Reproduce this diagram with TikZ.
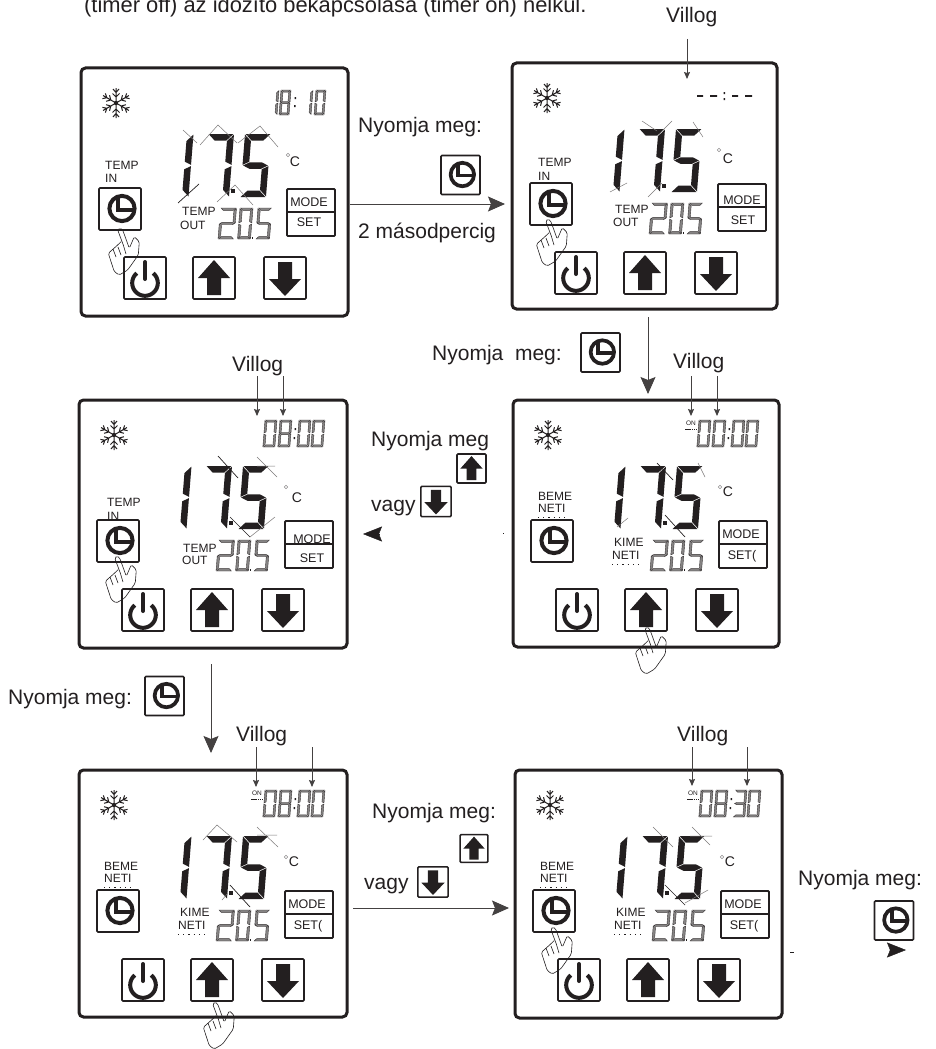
\documentclass[tikz,border=0pt]{standalone}
\usepackage{fontspec}
\setmainfont{Liberation Sans}
\usetikzlibrary{arrows.meta}
\definecolor{ink}{HTML}{231F20}
\tikzset{
  x=1pt,y=-1pt,
  panelbox/.style={draw=ink,line width=3pt,rounded corners=4.5pt,fill=white,inner sep=0pt,outer sep=0pt},
  btn/.style={draw=ink,line width=1.6pt,rounded corners=1pt,fill=white,inner sep=0pt,outer sep=0pt},
  big/.style={inner sep=0pt,anchor=west,text=ink,font=\fontsize{21}{21}\selectfont,text height=15pt,text depth=4pt},
  small/.style={inner sep=0pt,anchor=west,text=ink,font=\fontsize{12}{12}\selectfont,text height=9pt,text depth=0pt},
  mid/.style={inner sep=0pt,text=ink,font=\fontsize{12.5}{12.5}\selectfont,text height=9pt,text depth=0pt},
  conn/.style={draw=ink!85,line width=0.9pt,-{Stealth[length=17pt,width=15pt,inset=3pt]}},
  thinconn/.style={draw=ink!85,line width=0.9pt,-{Stealth[length=7pt,width=6pt,inset=1pt]}},
  headonly/.style={draw=ink,line width=0.5pt,-{Stealth[length=19pt,width=15pt,inset=3pt]}},
  bigseg/.style={fill=ink,draw=none},
  smallseg/.style={fill=ink!55,draw=ink!90,line width=0.4pt},
  spike/.style={draw=ink!60,line width=0.5pt},
  spikedark/.style={draw=ink,line width=0.7pt},
  handline/.style={draw=ink,line width=0.6pt,rounded corners=1.5pt,line join=round},
}
\def\g{0.6}
\def\SA{\path[\segst] (\g,0)--({\dw-\g},0)--({\dw-\g-\dt},\dt)--({\g+\dt},\dt)--cycle;}
\def\SD{\path[\segst] (\g,\dh)--({\dw-\g},\dh)--({\dw-\g-\dt},{\dh-\dt})--({\g+\dt},{\dh-\dt})--cycle;}
\def\SG{\path[\segst] (\g,{\dh/2})--({\g+\dt},{\dh/2-\dt/2})--({\dw-\g-\dt},{\dh/2-\dt/2})--({\dw-\g},{\dh/2})--({\dw-\g-\dt},{\dh/2+\dt/2})--({\g+\dt},{\dh/2+\dt/2})--cycle;}
\def\SF{\path[\segst] (0,\g)--(\dt,{\g+\dt})--(\dt,{\dh/2-\dt/2-\g})--(0,{\dh/2-\g})--cycle;}
\def\SB{\path[\segst] (\dw,\g)--({\dw-\dt},{\g+\dt})--({\dw-\dt},{\dh/2-\dt/2-\g})--(\dw,{\dh/2-\g})--cycle;}
\def\SE{\path[\segst] (0,{\dh/2+\g})--(\dt,{\dh/2+\dt/2+\g})--(\dt,{\dh-\g-\dt})--(0,{\dh-\g})--cycle;}
\def\SC{\path[\segst] (\dw,{\dh/2+\g})--({\dw-\dt},{\dh/2+\dt/2+\g})--({\dw-\dt},{\dh-\g-\dt})--(\dw,{\dh-\g})--cycle;}
\def\Dzero{\SA\SB\SC\SD\SE\SF}
\def\Done{\SB\SC}
\def\Dtwo{\SA\SB\SG\SE\SD}
\def\Dthree{\SA\SB\SG\SC\SD}
\def\Dfive{\SA\SF\SG\SC\SD}
\def\Dseven{\SA\SB\SC}
\def\Deight{\SA\SB\SC\SD\SE\SF\SG}
\newcommand\dig[3]{\begin{scope}[shift={(#1,#2)},xslant=0.08] #3 \end{scope}}
\newcommand\btnicon[5]{%
  \pgfmathsetmacro\bsz{42*#4}%
  \pgfmathsetmacro\blw{4*#4}%
  \node[btn,minimum size=\bsz pt] (#1) at (#2,#3) {};
  \begin{scope}[shift={(#2,#3)},scale=#4] #5 \end{scope}}
\def\Iclock{\draw[ink,line width=\blw pt] (2,-0.5) circle[radius=12.6];
  \draw[ink,line width=\blw pt] (-2.5,-12)--(-2.5,0.5)--(13,0.5);}
\def\Iup{\fill[ink] (0,-18)--(16,0)--(7,0)--(7,17)--(-7,17)--(-7,0)--(-16,0)--cycle;}
\def\Idown{\fill[ink] (0,18)--(16,1)--(7,1)--(7,-16)--(-7,-16)--(-7,1)--(-16,1)--cycle;}
\def\Ipower{\draw[ink,line width=\blw pt] plot[domain=-50:230,samples=40] ({12.8*cos(\x)},{5+12.8*sin(\x)});
  \draw[ink,line width=\blw pt,line cap=round] (0,-16)--(0,1);}
\newcommand\hand[2]{\begin{scope}[shift={(#1,#2)}]
  \draw[handline] (1,12.7)--(-2.3,16)--(-11.7,24.3)--(-5.7,42.7)--(-0.7,46)--(7.7,41)--(18.3,26)--(19.3,12.7)--(14.3,7.7)--(9.3,19.3)--(2.7,1)--(0,-1)--(-2.3,1)--(3.3,16);
  \draw[handline] (-7,20)--(-4,28) (-2,18)--(1,26) (3.3,16)--(6,25);
  \end{scope}}
\newcommand\common[3]{%
  \begin{scope}[shift={(35,35)}]
    \foreach \a in {0,60,...,300}{
      \begin{scope}[rotate=\a]
        \draw[ink,line width=1pt] (0,0)--(0,15) (-3.5,9.5)--(0,6)--(3.5,9.5) (-3,14)--(0,10.5)--(3,14);
      \end{scope}}
    \fill[ink] (0,0) circle[radius=2.2];
  \end{scope}
  \def\segst{bigseg}\def\dh{63}\def\dt{6.5}
  \def\dw{7.5}\dig{105}{66}{\Done}
  \def\dw{26}\dig{127}{66}{\Dseven}
  \def\dw{26}\dig{164}{66}{\Dfive}
  \fill[ink] (149.5,121) rectangle (153.5,125);
  \def\segst{smallseg}\def\dh{31}\def\dt{2.4}
  \def\dw{16}\dig{139.5}{140}{\Dtwo}
  \def\dw{13}\dig{159}{140}{\Dzero}
  \fill[ink] (170.5,169) rectangle (172.3,171);
  \def\dw{14}\dig{177}{140}{\Dfive}
  \btnicon{#1-clock}{39}{141}{1}{\Iclock}
  \btnicon{#1-power}{64}{210}{1}{\Ipower}
  \btnicon{#1-up}{133}{210}{1}{\Iup}
  \btnicon{#1-down}{204}{210}{1}{\Idown}
  \node[btn,minimum width=48pt,minimum height=47pt,line width=1.8pt] (#1-modebox) at (230,144.5) {};
  \node[mid] (#1-mode) at (#2) {MODE};
  \fill[white] (207,145) rectangle (253,167);
  \draw[ink,line width=1.6pt] (206,144)--(254,144);
  \coordinate (#1-setpos) at (#3);
}
\newcommand\degc[3]{%
  \draw[ink!50,line width=0.5pt] (207,87) circle[radius=1.8];
  \node[inner sep=0pt,text=ink,font=\fontsize{14}{14}\selectfont] (#1-c) at (#2,#3) {C};}
\newcommand\timedigits[4]{%
  \def\segst{smallseg}\def\dh{27}\def\dt{2.1}\def\dw{12}
  \dig{186}{20}{#1}\dig{201}{20}{#2}\dig{220}{20}{#3}\dig{234}{20}{#4}
  \fill[ink] (215.5,28) rectangle (217,30) (214.5,37) rectangle (216,39);}
\newcommand\onmark[1]{%
  \node[inner sep=0pt,text=ink,font=\fontsize{6.5}{6.5}\selectfont] (#1-on) at (178,23) {ON};
  \draw[ink,line width=0.4pt,dash pattern=on 1.5pt off 0.7pt] (172,29)--(184,29);}
\newcommand\dottedline[2]{\draw[ink,line width=0.9pt,dash pattern=on 1.2pt off 4pt] (#1,#2)--++(29,0);}
\begin{document}
\begin{tikzpicture}
\useasboundingbox (0,0) rectangle (935,1049);
\fill[white] (0,0) rectangle (935,1049);

\node[inner sep=0pt,anchor=base west,text=ink,font=\fontsize{21.9}{21.9}\selectfont] (intro) at (84,12.7) {(timer off) az időzítő bekapcsolása (timer on) nélkül.};

\node[panelbox,minimum width=267pt,minimum height=248pt] (p1) at (214.5,192) {};
\node[panelbox,minimum width=265pt,minimum height=246pt] (p2) at (644.5,186) {};
\node[panelbox,minimum width=268pt,minimum height=248pt] (p3) at (213,524) {};
\node[panelbox,minimum width=266pt,minimum height=247pt] (p4) at (646,523.5) {};
\node[panelbox,minimum width=268pt,minimum height=247pt] (p5) at (213,893.5) {};
\node[panelbox,minimum width=267pt,minimum height=248pt] (p6) at (648.5,894) {};

% ===== Panel 1
\begin{scope}[shift={(81,68)}]
  \common{p1}{228,134}{228,154}
  \node[mid] (p1-settext) at (p1-setpos) {SET};
  \degc{p1}{214}{94}
  \def\segst{smallseg}\def\dh{25}\def\dt{2.1}
  \def\dw{4}\dig{194}{22}{\Done}
  \def\dw{10}\dig{200}{22}{\Deight}
  \fill[ink] (213.5,29) rectangle (215,31) (213,37) rectangle (214.5,39);
  \def\dw{4}\dig{228}{22}{\Done}
  \def\dw{10}\dig{235}{22}{\Dzero}
  \node[small] (p1-ti) at (24,97) {TEMP};
  \node[small] (p1-in) at (24,110) {IN};
  \node[small] (p1-to) at (101,143) {TEMP};
  \node[small] (p1-ou) at (99,157) {OUT};
  \draw[spike] (102,62)--(116,75) (119,77)--(137,57)--(156,75) (157,75)--(179,58)--(197,79) (136,134)--(154,117)--(172,137);
  \draw[spikedark] (97,135)--(118,116);
  \hand{39}{161}
\end{scope}

% ===== Panel 2
\begin{scope}[shift={(512,63)}]
  \common{p2}{230,137}{231,157}
  \node[mid] (p2-settext) at (p2-setpos) {SET};
  \degc{p2}{216}{96}
  \fill[ink] (185,32.2) rectangle (191,33.8) (198,32.2) rectangle (205,33.8) (220,32.2) rectangle (226,33.8) (233,32.2) rectangle (240,33.8);
  \fill[ink] (211.5,29) rectangle (213,31) (211.5,35) rectangle (213,37);
  \node[small] (p2-ti) at (26,99) {TEMP};
  \node[small] (p2-in) at (26,113) {IN};
  \node[small] (p2-to) at (103,146) {TEMP};
  \node[small] (p2-ou) at (101,159) {OUT};
  \draw[spike] (181,59)--(191,74) (98,129)--(115,120) (136,134)--(150,120) (130,58)--(145,68) (150,68)--(160,58);
  \hand{36}{157}
\end{scope}

% ===== Panel 3
\begin{scope}[shift={(79,400)}]
  \node[small] (p3-in) at (28,116) {IN};
  \common{p3}{233,139}{233,158}
  \node[mid] (p3-settext) at (p3-setpos) {SET};
  \degc{p3}{218}{98}
  \timedigits{\Dzero}{\Deight}{\Dzero}{\Dzero}
  \node[small] (p3-ti) at (28,102) {TEMP};
  \node[small] (p3-to) at (104,148) {TEMP};
  \node[small] (p3-ou) at (103,160) {OUT};
  \draw[spike] (178,57)--(198,77) (178,66)--(196,66) (171,137)--(196,117);
  \draw[spikedark] (139,56)--(159,78) (151,117)--(171,137);
  \hand{38}{157}
\end{scope}

% ===== Panel 4
\begin{scope}[shift={(513,400)}]
  \common{p4}{228,134}{229,155}
  \node[mid] (p4-settext) at (p4-setpos) {SET(};
  \degc{p4}{215}{92}
  \timedigits{\Dzero}{\Dzero}{\Dzero}{\Dzero}
  \onmark{p4}
  \node[small] (p4-be) at (25,96) {BEME};
  \node[small] (p4-ne) at (25,108) {NETI};
  \dottedline{25}{117}
  \node[small] (p4-ki) at (101,142) {KIME};
  \node[small] (p4-nt) at (99,155) {NETI};
  \dottedline{99}{164}
  \draw[spike] (185,63)--(192,77) (104,127)--(115,118);
  \draw[spikedark] (144,63)--(160,80) (152,115)--(172,137);
  \hand{134}{228}
\end{scope}

% ===== Panel 5
\begin{scope}[shift={(79,770)}]
  \common{p5}{228,134}{229,155}
  \node[mid] (p5-settext) at (p5-setpos) {SET(};
  \degc{p5}{215}{92}
  \timedigits{\Dzero}{\Deight}{\Dzero}{\Dzero}
  \onmark{p5}
  \node[small] (p5-be) at (25,96) {BEME};
  \node[small] (p5-ne) at (25,108) {NETI};
  \dottedline{25}{117}
  \node[small] (p5-ki) at (101,142) {KIME};
  \node[small] (p5-nt) at (99,155) {NETI};
  \dottedline{99}{164}
  \draw[spike] (124,70)--(138,55)--(158,72) (178,57)--(199,77) (178,65)--(198,65) (143,130)--(149,123);
  \draw[spikedark] (151,115)--(171,137);
  \hand{136}{233}
\end{scope}

% ===== Panel 6
\begin{scope}[shift={(515,770)}]
  \common{p6}{228,134}{229,155}
  \node[mid] (p6-settext) at (p6-setpos) {SET(};
  \degc{p6}{215}{92}
  \timedigits{\Dzero}{\Deight}{\Dthree}{\Dzero}
  \onmark{p6}
  \node[small] (p6-be) at (25,96) {BEME};
  \node[small] (p6-ne) at (25,108) {NETI};
  \dottedline{25}{117}
  \node[small] (p6-ki) at (101,142) {KIME};
  \node[small] (p6-nt) at (99,155) {NETI};
  \dottedline{99}{164}
  \draw[spike] (138,57)--(158,77) (177,57)--(195,75) (175,66)--(197,66) (170,133)--(193,120);
  \draw[spikedark] (150,115)--(170,135);
  \hand{38}{158}
\end{scope}

% ===== Labels between panels
\node[big] (n1) at (358,127) {Nyomja meg:};
\btnicon{i1}{460.5}{175}{0.93}{\Iclock}
\node[big] (n1b) at (358,233) {2 másodpercig};
\node[big] (v2) at (666,17) {Villog};

\node[big] (n2) at (432,355) {Nyomja\ \ meg:};
\btnicon{i2}{600.5}{352.5}{0.93}{\Iclock}
\node[big] (v4) at (673,363) {Villog};

\node[big] (v3) at (232,366) {Villog};
\node[big] (n3) at (371,441) {Nyomja meg};
\btnicon{i3u}{471.5}{468.5}{0.69}{\Iup}
\node[big] (n3v) at (371,506) {vagy};
\btnicon{i3d}{436}{501.5}{0.72}{\Idown}

\node[big] (n4) at (8,699) {Nyomja meg:};
\btnicon{i4}{164.5}{696}{0.93}{\Iclock}
\node[big] (v5) at (236,736) {Villog};

\node[big] (n5) at (372,813) {Nyomja meg:};
\btnicon{i5u}{474}{848.5}{0.66}{\Iup}
\node[big] (n5v) at (364,884) {vagy};
\btnicon{i5d}{433}{882}{0.72}{\Idown}

\node[big] (v6) at (677,736) {Villog};
\node[big] (n6) at (798,880) {Nyomja meg:};
\btnicon{i6}{894}{920.5}{0.93}{\Iclock}

% ===== Connectors
\coordinate (a1s) at (350,204); \coordinate (a1e) at (505,204);
\draw[conn] (a1s)--(a1e);
\coordinate (a2s) at (648,317); \coordinate (a2e) at (648,394);
\draw[conn] (a2s)--(a2e);
\coordinate (a3s) at (211,664); \coordinate (a3e) at (211,753);
\draw[conn] (a3s)--(a3e);
\coordinate (a4s) at (353,908); \coordinate (a4e) at (509,908);
\draw[conn] (a4s)--(a4e);
\coordinate (h1s) at (379,534); \coordinate (h1e) at (363,534);
\draw[headonly] (h1s)--(h1e);
\coordinate (h2s) at (890,950); \coordinate (h2e) at (906,950);
\draw[headonly] (h2s)--(h2e);
\fill[ink] (502.5,532.5) rectangle (503.5,533.5);
\fill[ink] (790,951.5) rectangle (794,952.5);

\coordinate (b1s) at (687,39); \coordinate (b1e) at (687,79);
\draw[thinconn] (b1s)--(b1e);
\coordinate (b2s) at (257,376); \coordinate (b2e) at (257,416);
\draw[thinconn] (b2s)--(b2e);
\coordinate (b3s) at (283,376); \coordinate (b3e) at (283,416);
\draw[thinconn] (b3s)--(b3e);
\coordinate (b4s) at (691,376); \coordinate (b4e) at (691,416);
\draw[thinconn] (b4s)--(b4e);
\coordinate (b5s) at (717,376); \coordinate (b5e) at (717,416);
\draw[thinconn] (b5s)--(b5e);
\coordinate (b6s) at (256,747); \coordinate (b6e) at (256,787);
\draw[thinconn] (b6s)--(b6e);
\coordinate (b7s) at (312,747); \coordinate (b7e) at (312,787);
\draw[thinconn] (b7s)--(b7e);
\coordinate (b8s) at (692,747); \coordinate (b8e) at (692,786);
\draw[thinconn] (b8s)--(b8e);
\coordinate (b9s) at (747,747); \coordinate (b9e) at (747,786);
\draw[thinconn] (b9s)--(b9e);
\end{tikzpicture}
\end{document}
